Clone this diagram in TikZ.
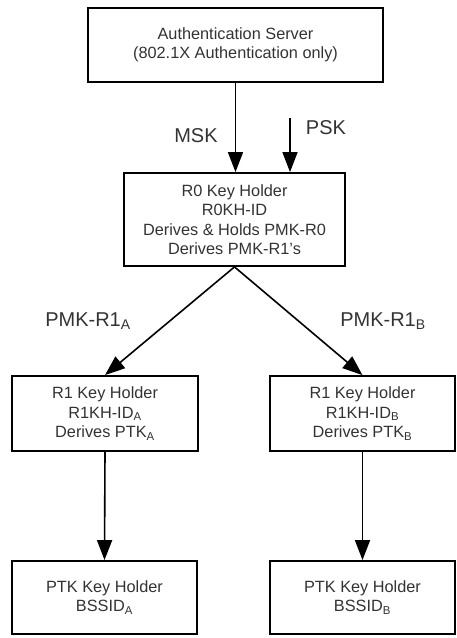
\documentclass[tikz,border=0pt]{standalone}
\usepackage{fontspec}
\setmainfont{Liberation Sans}
\usetikzlibrary{arrows.meta}
\begin{document}
\begin{tikzpicture}[x=1pt,y=-1pt,
  box/.style={draw,line width=1.8pt,align=center,inner sep=0pt,font=\fontsize{16.3}{19.5}\selectfont,text=black!80},
  lbl/.style={font=\fontsize{20}{24}\selectfont,text=black!80},
  arr/.style={line width=1.6pt,-{Triangle[length=20pt,width=15pt]}}]
\useasboundingbox (0,0) rectangle (456,638);
\node[box,minimum width=295pt,minimum height=74pt] (auth) at (235.5,45) {Authentication Server\\(802.1X Authentication only)};
\node[box,minimum width=221pt,minimum height=93pt] (r0) at (234.5,219.5) {R0 Key Holder\\R0KH-ID\\Derives \& Holds PMK-R0\\Derives PMK-R1's};
\node[box,minimum width=186pt,minimum height=75pt] (r1a) at (105,413.5) {R1 Key Holder\\R1KH-ID\textsubscript{A}\\Derives PTK\textsubscript{A}};
\node[box,minimum width=185pt,minimum height=75pt] (r1b) at (362.5,413.5) {R1 Key Holder\\R1KH-ID\textsubscript{B}\\Derives PTK\textsubscript{B}};
\node[box,minimum width=185pt,minimum height=73pt] (ptka) at (104.5,597.5) {PTK Key Holder\\BSSID\textsubscript{A}};
\node[box,minimum width=185pt,minimum height=73pt] (ptkb) at (362.5,597.5) {PTK Key Holder\\BSSID\textsubscript{B}};
\coordinate (psk) at (290,118);
\draw[arr] (auth.south) -- (auth.south |- r0.north);
\draw[arr] (psk) -- (psk |- r0.north);
\draw[arr] (r0.south) -- (r1a.north);
\draw[arr] (r0.south) -- (r1b.north);
\draw[arr] (r1a.south) -- (ptka.north);
\draw[arr] (r1b.south) -- (ptkb.north);
\node[lbl] (msk) at (196,136) {MSK};
\node[lbl] (pskl) at (326,128) {PSK};
\node[lbl] (pa) at (88,321) {PMK-R1\textsubscript{A}};
\node[lbl] (pb) at (383,321) {PMK-R1\textsubscript{B}};
\end{tikzpicture}
\end{document}
